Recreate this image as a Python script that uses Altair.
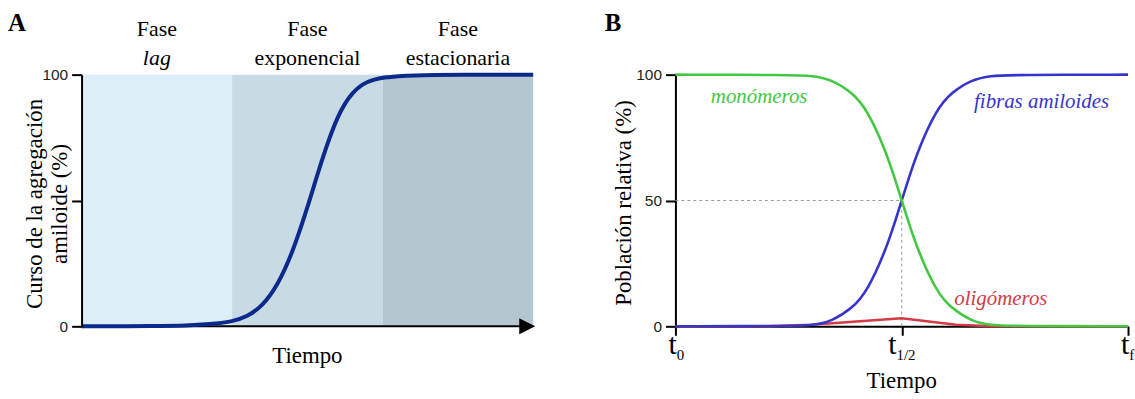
import altair as alt
import pandas as pd

SERIF = "Liberation Serif"
SANS = "Liberation Sans"
BLACK = "#000000"

# ---------------- Panel A data ----------------
phase_top = ["Fase", "Fase", "Fase"]
phase_bottom = ["lag", "exponencial", "estacionaria"]
phase_bottom_style = ["italic", "normal", "normal"]
phase_start = [0, 1, 2]
phase_end = [1, 2, 3]
phase_color = ["#DCEEF7", "#C8DBE4", "#B4C7D0"]

agg_time = [0, 0.5, 0.7, 0.85, 1.0, 1.1, 1.2, 1.3, 1.4, 1.5, 1.6, 1.7, 1.8,
            1.9, 2.0, 2.2, 2.5, 3.0]
agg_value = [0, 0.1, 0.3, 0.8, 1.8, 3.8, 8, 16, 29, 47, 67, 84, 93.5,
             97.5, 99, 99.8, 100, 100]

a_yticks = [0, 50, 100]
a_ytick_labels = ["0", "", "100"]
a_ytitle = ["Curso de la agregación", "amiloide (%)"]
x_title = "Tiempo"

# ---------------- Panel B data ----------------
pop_time = [0, 0.25, 0.305, 0.345, 0.39, 0.424, 0.464, 0.486, 0.5, 0.514, 0.536,
            0.576, 0.61, 0.655, 0.695, 0.75, 1.0]
monomer = [100, 99.9, 99.6, 98, 93, 86, 70, 58, 50, 42, 30, 14, 7, 2, 0.4, 0.1, 0]
fibril = [0, 0.1, 0.4, 2, 7, 14, 30, 42, 50, 58, 70, 86, 93, 98, 99.6, 99.9, 100]
olig_time = [0, 0.2, 0.3, 0.5, 0.62, 0.7, 1.0]
olig_value = [0, 0.05, 0.6, 3.2, 0.6, 0.05, 0]

b_yticks = [0, 50, 100]
b_xticks = [0, 0.5, 1]
b_xtick_sub = ["0", "1/2", "f"]
b_ytitle = "Población relativa (%)"
series_names = ["monómeros", "fibras amiloides", "oligómeros"]
series_colors = ["#44C844", "#3535CC", "#D43A44"]
label_x = [0.185, 0.809, 0.719]
label_y = [91.3, 89, 10.7]
half_time = 0.5
half_value = 50

WA, HA = 454, 253
WB, HB = 455, 253


def one(text):
    return pd.DataFrame({"t": [text]})


# ================= Panel A =================
xA_scale = alt.Scale(domain=[0, 3], nice=False, zero=False)
yA_scale = alt.Scale(domain=[0, 100], nice=False, zero=False)
labelA = " : ".join(f"datum.value === {v} ? '{l}'" for v, l in zip(a_yticks, a_ytick_labels)) + " : ''"
yA_axis = alt.Axis(values=a_yticks, labelExpr=labelA, title=None, grid=False,
                   tickSize=10, tickWidth=2, tickColor=BLACK, domainColor=BLACK,
                   domainWidth=2, labelFont=SANS, labelFontSize=15.5, labelColor="#222",
                   labelPadding=4, zindex=1)

bands = pd.DataFrame({
    "start": phase_start, "end": phase_end, "color": phase_color,
    "top": phase_top, "bottom": phase_bottom, "style": phase_bottom_style,
})
bands["mid"] = (bands["start"] + bands["end"]) / 2

band_layer = alt.Chart(bands).mark_rect().encode(
    x=alt.X("start:Q", scale=xA_scale, axis=None),
    x2="end:Q",
    y=alt.value(0), y2=alt.value(HA),
    color=alt.Color("color:N", scale=None),
)

axis_rule = alt.Chart(one("")).mark_rule(color=BLACK, strokeWidth=2).encode(
    x=alt.value(0), x2=alt.value(WA - 8), y=alt.value(HA))

arrow = alt.Chart(one("")).mark_point(
    shape="M0,0L-2,-1L-2,1Z", size=256, filled=True, color=BLACK, opacity=1, strokeWidth=0
).encode(x=alt.value(WA + 2), y=alt.value(HA))

curveA = alt.Chart(pd.DataFrame({"t": agg_time, "v": agg_value})).mark_line(
    color="#0B2A8C", strokeWidth=4, interpolate="basis"
).encode(
    x=alt.X("t:Q", scale=xA_scale, axis=None),
    y=alt.Y("v:Q", scale=yA_scale, axis=yA_axis),
)

phase_line1 = alt.Chart(bands).mark_text(
    font=SERIF, fontSize=22, align="center", baseline="alphabetic", color=BLACK
).encode(x=alt.X("mid:Q", scale=xA_scale, axis=None), y=alt.value(-39), text="top:N")

phase_line2_it = alt.Chart(bands).transform_filter(alt.datum.style == "italic").mark_text(
    font=SERIF, fontSize=22, fontStyle="italic", align="center", baseline="alphabetic", color=BLACK
).encode(x=alt.X("mid:Q", scale=xA_scale, axis=None), y=alt.value(-10), text="bottom:N")

phase_line2 = alt.Chart(bands).transform_filter(alt.datum.style == "normal").mark_text(
    font=SERIF, fontSize=22, align="center", baseline="alphabetic", color=BLACK
).encode(x=alt.X("mid:Q", scale=xA_scale, axis=None), y=alt.value(-10), text="bottom:N")

letterA = alt.Chart(one("A")).mark_text(
    font=SERIF, fontSize=25, fontWeight="bold", align="left", baseline="alphabetic", color=BLACK
).encode(x=alt.value(-74), y=alt.value(-44), text="t:N")

ytA1 = alt.Chart(one(a_ytitle[0])).mark_text(
    font=SERIF, fontSize=23, angle=270, align="center", baseline="middle", color=BLACK
).encode(x=alt.value(-47), y=alt.value(130), text="t:N")
ytA2 = alt.Chart(one(a_ytitle[1])).mark_text(
    font=SERIF, fontSize=23, angle=270, align="center", baseline="middle", color=BLACK
).encode(x=alt.value(-22), y=alt.value(130), text="t:N")

xtA = alt.Chart(one(x_title)).mark_text(
    font=SERIF, fontSize=23, align="center", baseline="alphabetic", color=BLACK
).encode(x=alt.value(WA / 2), y=alt.value(290), text="t:N")

panelA = alt.layer(
    band_layer, axis_rule, curveA, arrow, phase_line1, phase_line2_it, phase_line2,
    letterA, ytA1, ytA2, xtA
).properties(width=WA, height=HA)

# ================= Panel B =================
xB_scale = alt.Scale(domain=[0, 1], nice=False, zero=False)
yB_scale = alt.Scale(domain=[0, 100], nice=False, zero=False)
xB_axis = alt.Axis(values=b_xticks, labels=False, title=None, grid=False,
                   tickSize=9, tickWidth=2, tickColor=BLACK, domainColor=BLACK, domainWidth=2)
yB_axis = alt.Axis(values=b_yticks, title=None, grid=False, tickSize=10, tickWidth=2,
                   tickColor=BLACK, domainColor=BLACK, domainWidth=2, labelFont=SANS,
                   labelFontSize=15.5, labelColor="#222", labelPadding=4)


def xB(f):
    return alt.X(f, type="quantitative", scale=xB_scale, axis=xB_axis)


def yB(f):
    return alt.Y(f, type="quantitative", scale=yB_scale, axis=yB_axis)


guides = pd.DataFrame({"x0": [0], "x1": [half_time], "y0": [0], "y1": [half_value]})
hguide = alt.Chart(guides).mark_rule(color="#9A9A9A", strokeWidth=1, strokeDash=[3, 3]).encode(
    x=xB("x0"), x2="x1:Q", y=yB("y1"))
vguide = alt.Chart(guides).mark_rule(color="#9A9A9A", strokeWidth=1, strokeDash=[3, 3]).encode(
    x=xB("x1"), y=yB("y0"), y2="y1:Q")

red = alt.Chart(pd.DataFrame({"t": olig_time, "v": olig_value})).mark_line(
    color=series_colors[2], strokeWidth=2.6).encode(x=xB("t"), y=yB("v"))
blue = alt.Chart(pd.DataFrame({"t": pop_time, "v": fibril})).mark_line(
    color=series_colors[1], strokeWidth=2.6, interpolate="basis").encode(x=xB("t"), y=yB("v"))
green = alt.Chart(pd.DataFrame({"t": pop_time, "v": monomer})).mark_line(
    color=series_colors[0], strokeWidth=2.6, interpolate="basis").encode(x=xB("t"), y=yB("v"))

labels = pd.DataFrame({"name": series_names, "x": label_x, "y": label_y, "color": series_colors})
series_text = alt.Chart(labels).mark_text(
    font=SERIF, fontSize=21, fontStyle="italic", align="center", baseline="middle"
).encode(x=xB("x"), y=yB("y"), text="name:N", color=alt.Color("color:N", scale=None))

tick_layers = []
for pos, sub in zip(b_xticks, b_xtick_sub):
    off = (9 - 6.5 * len(sub)) / 2
    d = pd.DataFrame({"p": [pos], "main": ["t"], "sub": [sub]})
    tick_layers.append(alt.Chart(d).mark_text(
        font=SERIF, fontSize=30, align="right", baseline="alphabetic", dx=off, color=BLACK
    ).encode(x=xB("p"), y=alt.value(281), text="main:N"))
    tick_layers.append(alt.Chart(d).mark_text(
        font=SERIF, fontSize=15, align="left", baseline="alphabetic", dx=off, color=BLACK
    ).encode(x=xB("p"), y=alt.value(287), text="sub:N"))

letterB = alt.Chart(one("B")).mark_text(
    font=SERIF, fontSize=25, fontWeight="bold", align="left", baseline="alphabetic", color=BLACK
).encode(x=alt.value(-71), y=alt.value(-44), text="t:N")

ytB = alt.Chart(one(b_ytitle)).mark_text(
    font=SERIF, fontSize=23, angle=270, align="center", baseline="middle", color=BLACK
).encode(x=alt.value(-52), y=alt.value(129), text="t:N")

xtB = alt.Chart(one(x_title)).mark_text(
    font=SERIF, fontSize=23, align="center", baseline="alphabetic", color=BLACK
).encode(x=alt.value(WB / 2), y=alt.value(315), text="t:N")

panelB = alt.layer(
    hguide, vguide, red, blue, green, series_text, *tick_layers, letterB, ytB, xtB
).properties(width=WB, height=HB)

chart = alt.hconcat(panelA, panelB, spacing=64).properties(
    padding={"left": 8, "top": 10, "right": 0, "bottom": 0}
).configure_view(stroke=None)

chart.save("out.html", embed_options={"renderer": "svg", "actions": False})
